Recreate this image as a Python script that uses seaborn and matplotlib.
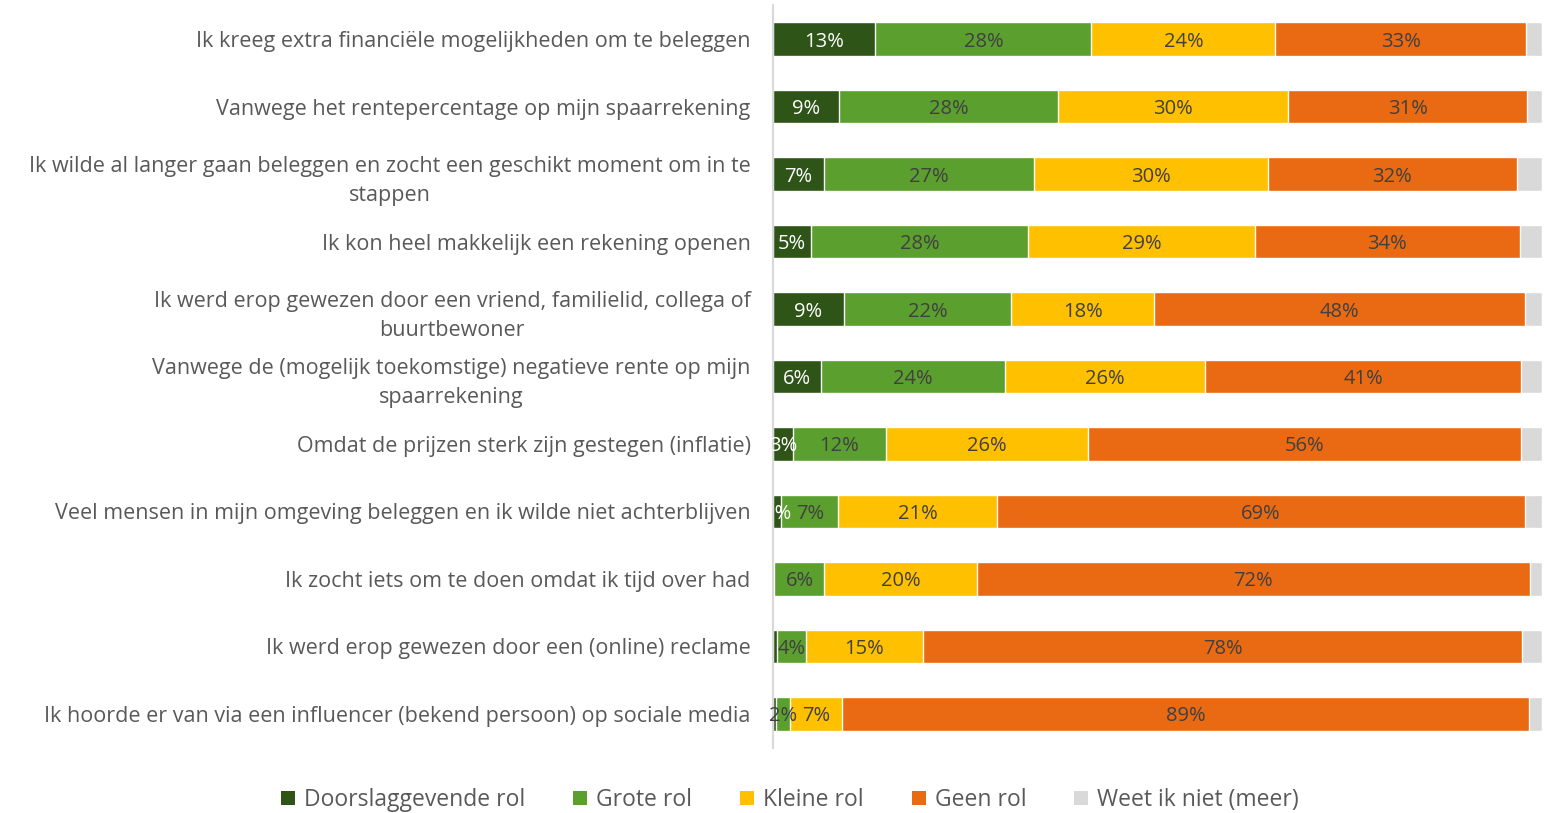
import matplotlib

matplotlib.use("Agg")
import matplotlib.pyplot as plt
import numpy as np
import pandas as pd
import seaborn as sns
from matplotlib.patches import Patch

# reasons (top to bottom)
reasons = [
    "Ik kreeg extra financiële mogelijkheden om te beleggen",
    "Vanwege het rentepercentage op mijn spaarrekening",
    "Ik wilde al langer gaan beleggen en zocht een geschikt moment om in te\nstappen",
    "Ik kon heel makkelijk een rekening openen",
    "Ik werd erop gewezen door een vriend, familielid, collega of\nbuurtbewoner",
    "Vanwege de (mogelijk toekomstige) negatieve rente op mijn\nspaarrekening",
    "Omdat de prijzen sterk zijn gestegen (inflatie)",
    "Veel mensen in mijn omgeving beleggen en ik wilde niet achterblijven",
    "Ik zocht iets om te doen omdat ik tijd over had",
    "Ik werd erop gewezen door een (online) reclame",
    "Ik hoorde er van via een influencer (bekend persoon) op sociale media",
]

# percentages
doorslaggevend = [13.3, 8.6, 6.6, 4.9, 9.2, 6.2, 2.6, 1.1, 0.2, 0.5, 0.4]
grote = [28.1, 28.4, 27.3, 28.3, 21.8, 23.9, 12.1, 7.4, 6.5, 3.8, 1.8]
kleine = [23.9, 30.0, 30.4, 29.4, 18.5, 26.1, 26.3, 20.6, 19.8, 15.2, 6.8]
geen = [32.6, 31.0, 32.4, 34.5, 48.3, 41.0, 56.2, 68.7, 71.9, 77.9, 89.2]
weet_niet = [2.1, 2.0, 3.3, 2.9, 2.2, 2.8, 2.8, 2.2, 1.6, 2.6, 1.8]

series_names = ["Doorslaggevende rol", "Grote rol", "Kleine rol", "Geen rol", "Weet ik niet (meer)"]
colors = ["#2E5417", "#5B9F2E", "#FFC000", "#E96A12", "#D9D9D9"]
label_colors = ["white", "#404040", "#404040", "#404040", None]

df = pd.DataFrame(
    {
        "reden": reasons,
        series_names[0]: doorslaggevend,
        series_names[1]: grote,
        series_names[2]: kleine,
        series_names[3]: geen,
        series_names[4]: weet_niet,
    }
)

sns.set_theme(style="white")
plt.rcParams["font.family"] = ["Open Sans", "DejaVu Sans"]

fig = plt.figure(figsize=(15.52, 8.13), dpi=100)
ax = fig.add_axes([0.498, 0.0803, 0.4958, 0.9132])

vals = df[series_names].to_numpy()
cum = vals.cumsum(axis=1)

# stacked by overlaying cumulative totals, widest first
for i in range(len(series_names) - 1, -1, -1):
    sns.barplot(
        x=cum[:, i],
        y=df["reden"],
        orient="h",
        color=colors[i],
        width=0.5,
        saturation=1,
        ax=ax,
    )

for r in range(len(reasons)):
    for i in range(len(series_names) - 1):
        v = vals[r, i]
        if v < 1:
            continue
        center = cum[r, i] - v / 2
        ax.text(center, r, f"{v:.0f}%", ha="center", va="center_baseline",
                fontsize=14.5, color=label_colors[i])

ax.set_xlim(0, 100)
ax.set_ylim(len(reasons) - 0.5, -0.5)
ax.set_xlabel("")
ax.set_ylabel("")
ax.set_xticks([])
ax.tick_params(axis="y", length=0, pad=16, labelsize=15.5, labelcolor="#595959")
for t in ax.get_yticklabels():
    t.set_multialignment("center")
    t.set_linespacing(1.5)
for side in ["top", "right", "bottom"]:
    ax.spines[side].set_visible(False)
ax.spines["left"].set_color("#D9D9D9")
ax.spines["left"].set_linewidth(1.5)

handles = [Patch(facecolor=c, edgecolor="none") for c in colors]
fig.legend(
    handles,
    series_names,
    loc="center",
    bbox_to_anchor=(0.509, 0.016),
    ncol=5,
    frameon=False,
    fontsize=16.5,
    handlelength=0.6,
    handleheight=0.6,
    handletextpad=0.4,
    columnspacing=2.1,
    labelcolor="#595959",
)

fig.savefig("out.png", dpi=100)
plt.close(fig)
